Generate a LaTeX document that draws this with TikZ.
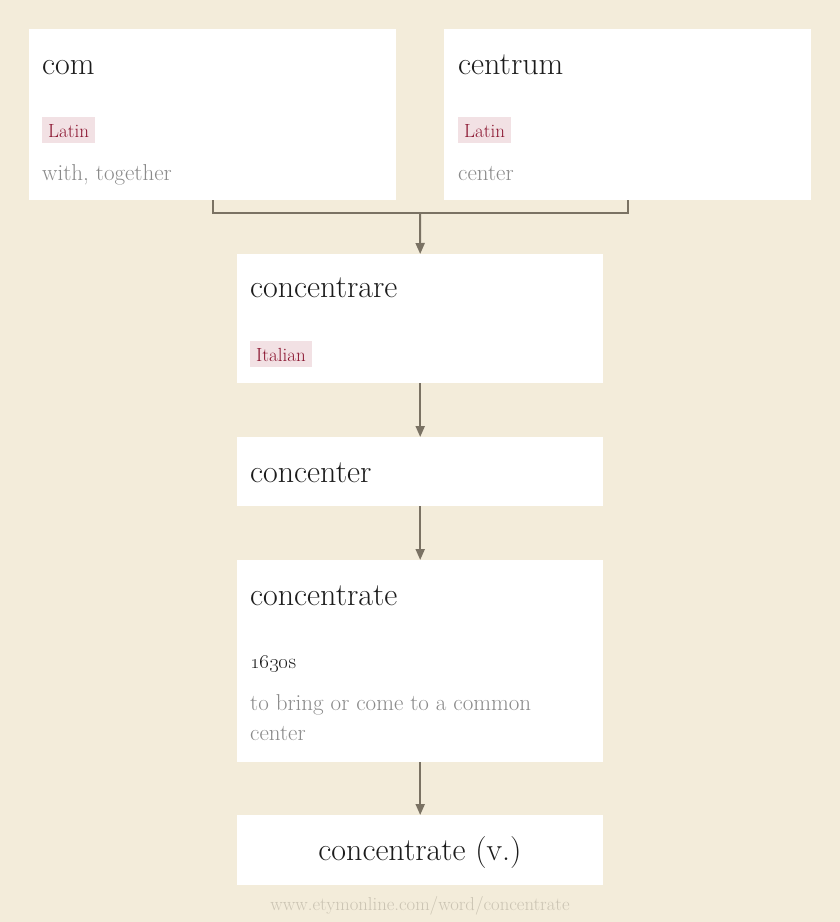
\documentclass[tikz,border=0pt]{standalone}
\usetikzlibrary{arrows.meta}

\definecolor{paper}{HTML}{F3ECDA}
\definecolor{ink}{HTML}{1C1C1C}
\definecolor{gloss}{HTML}{8A8A8A}
\definecolor{tagbg}{HTML}{F2E1E4}
\definecolor{tagink}{HTML}{8B1530}
\definecolor{wire}{HTML}{7A7263}
\definecolor{foot}{HTML}{CBC4B3}

\begin{document}
\begin{tikzpicture}[x=1pt,y=-1pt]
	\tikzstyle{box}=[fill=white, draw=none, inner sep=0pt, anchor=north west]
	\tikzstyle{word}=[inner sep=0pt, anchor=base west, text=ink, font=\fontsize{32}{36}\selectfont]
	\tikzstyle{lang}=[fill=tagbg, text=tagink, anchor=base west, inner xsep=6pt, inner ysep=6pt, text height=14pt, text depth=0pt, font=\fontsize{19}{22}\selectfont]
	\tikzstyle{sense}=[inner sep=0pt, anchor=base west, text=gloss, align=left, font=\fontsize{23}{30}\selectfont]
	\tikzstyle{link}=[draw=wire, line width=2pt]
	\tikzstyle{arrow}=[link, -{Triangle[length=11pt,width=9pt]}]

	\fill[paper] (0,0) rectangle (840,922);

	% source words
	\node[box, minimum width=367pt, minimum height=171pt] (com) at (29,29) {};
	\node[word] (comword) at (42,74) {com};
	\node[lang] (comlang) at (42,137) {Latin};
	\node[sense] (comsense) at (42,180) {with, together};

	\node[box, minimum width=367pt, minimum height=171pt] (centrum) at (444,29) {};
	\node[word] (centrumword) at (458,74) {centrum};
	\node[lang] (centrumlang) at (458,137) {Latin};
	\node[sense] (centrumsense) at (458,180) {center};

	% chain
	\node[box, minimum width=366pt, minimum height=129pt] (concentrare) at (237,254) {};
	\node[word] (concentrareword) at (250,297) {concentrare};
	\node[lang] (concentrarelang) at (250,361) {Italian};

	\node[box, minimum width=366pt, minimum height=69pt] (concenter) at (237,437) {};
	\node[word] (concenterword) at (250,482) {concenter};

	\node[box, minimum width=366pt, minimum height=202pt] (concentrate) at (237,560) {};
	\node[word] (concentrateword) at (250,605) {concentrate};
	\node[inner sep=0pt, anchor=base west, text=ink, font=\fontsize{21}{24}\selectfont] (concentratedate) at (250,668) {\oldstylenums{1630}s};
	\node[sense] (concentratesense) at (250,740) {to bring or come to a common\\center};

	\node[box, minimum width=366pt, minimum height=70pt] (verb) at (237,815) {};
	\node[word, anchor=base] (verbword) at (420,860) {concentrate (v.)};

	\node[inner sep=0pt, anchor=base, text=foot, font=\fontsize{18.7}{22}\selectfont] (source) at (420,910) {www.etymonline.com/word/concentrate};

	% connectors
	\coordinate (join) at (420,213);
	\draw[link] (com.south) |- (join) -| (centrum.south);
	\draw[arrow] (join) -- (concentrare.north);
	\draw[arrow] (concentrare.south) -- (concenter.north);
	\draw[arrow] (concenter.south) -- (concentrate.north);
	\draw[arrow] (concentrate.south) -- (verb.north);
\end{tikzpicture}
\end{document}
